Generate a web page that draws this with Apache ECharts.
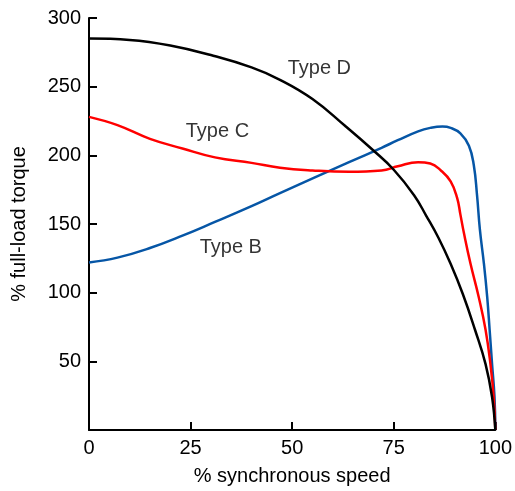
<!DOCTYPE html>
<html>
<head>
<meta charset="utf-8">
<script src="https://cdn.jsdelivr.net/npm/echarts@6/dist/echarts.min.js"></script>
<style>
html,body{margin:0;padding:0;background:#fff;}
#chart{width:515px;height:491px;}
</style>
</head>
<body>
<div id="chart"></div>
<script>
// x: % synchronous speed, y: % full-load torque
var typeD = [[0,285],[10,284],[20,280],[30,273],[40,264],[47,255],[55,241],[63,221.5],[70,203.5],[75,189.5],[80,171],[83,156],[86,140],[89,121],[92,99],[95,73],[97.6,48],[99.2,24],[100,0]];
var typeC = [[0,228],[7,222],[15,212],[23,205],[31,198.5],[40,194.5],[47,191],[55,189],[64,188],[72,189],[76,192],[81,195],[84,194],[86.6,189],[89,181],[90.6,169],[91.4,157],[92.3,143],[93.9,121],[95.9,97],[97.6,73],[98.8,48],[99.6,24],[100,0]];
var typeB = [[0,122],[7,125.5],[15,132.5],[23,141.5],[31,151.5],[40,163],[47,172.5],[56,184.5],[64,195],[72,205.5],[76,211],[81,217.5],[84,220],[87,221],[89,220],[91.4,216],[93.5,207],[94.7,193],[95.5,171],[96.2,146],[97.2,121],[98,97],[98.6,73],[99.2,48],[99.8,24],[100,0]];
var seriesNames = ['Type D', 'Type C', 'Type B'];
var labelAnchors = [[56.7,263.6],[31.6,217.4],[34.9,132.7]];
var xTicks = [0,25,50,75,100];
var yTicks = [50,100,150,200,250,300];

var FONT = '"Liberation Sans", Arial, Helvetica, sans-serif';
var colors = ['#000000', '#ff0000', '#0656a6'];
var chart = echarts.init(document.getElementById('chart'), null, {renderer:'canvas'});
var lineData = [typeD, typeC, typeB];
var series = lineData.map(function(d, i){
  return {
    name: seriesNames[i], type: 'line', data: d, smooth: 0.45, showSymbol: false,
    lineStyle: {color: colors[i], width: 2.5}, z: 3 - i, animation: false
  };
});
series.push({
  type: 'scatter', symbolSize: 0, animation: false, silent: true,
  data: labelAnchors.map(function(p, i){ return {value: p, name: seriesNames[i]}; }),
  label: {show: true, position: 'inside', formatter: function(p){ return p.name; },
          color: '#000', fontSize: 20, fontFamily: FONT}
});
chart.setOption({
  animation: false,
  backgroundColor: '#fff',
  grid: {left: 89, right: 17, top: 18, bottom: 61, containLabel: false},
  xAxis: {
    type: 'value', min: 0, max: 100, interval: 25,
    name: '% synchronous speed', nameLocation: 'middle', nameGap: 36,
    nameTextStyle: {color: '#000', fontSize: 20, fontFamily: FONT},
    axisLine: {lineStyle: {color: '#000', width: 2}},
    axisTick: {inside: true, length: 8, lineStyle: {color: '#000', width: 2}},
    axisLabel: {color: '#000', fontSize: 20, fontFamily: FONT, margin: 8,
      formatter: function(v){ return xTicks.indexOf(v) >= 0 ? String(v) : ''; }},
    splitLine: {show: false}
  },
  yAxis: {
    type: 'value', min: 0, max: 300, interval: 50,
    name: '% full-load torque', nameLocation: 'middle', nameGap: 60,
    nameTextStyle: {color: '#000', fontSize: 20, fontFamily: FONT},
    axisLine: {lineStyle: {color: '#000', width: 2}},
    axisTick: {inside: true, length: 8, lineStyle: {color: '#000', width: 2}},
    axisLabel: {color: '#000', fontSize: 20, fontFamily: FONT, margin: 8, showMinLabel: false,
      formatter: function(v){ return yTicks.indexOf(v) >= 0 ? String(v) : ''; }},
    splitLine: {show: false}
  },
  series: series
});
</script>
</body>
</html>
